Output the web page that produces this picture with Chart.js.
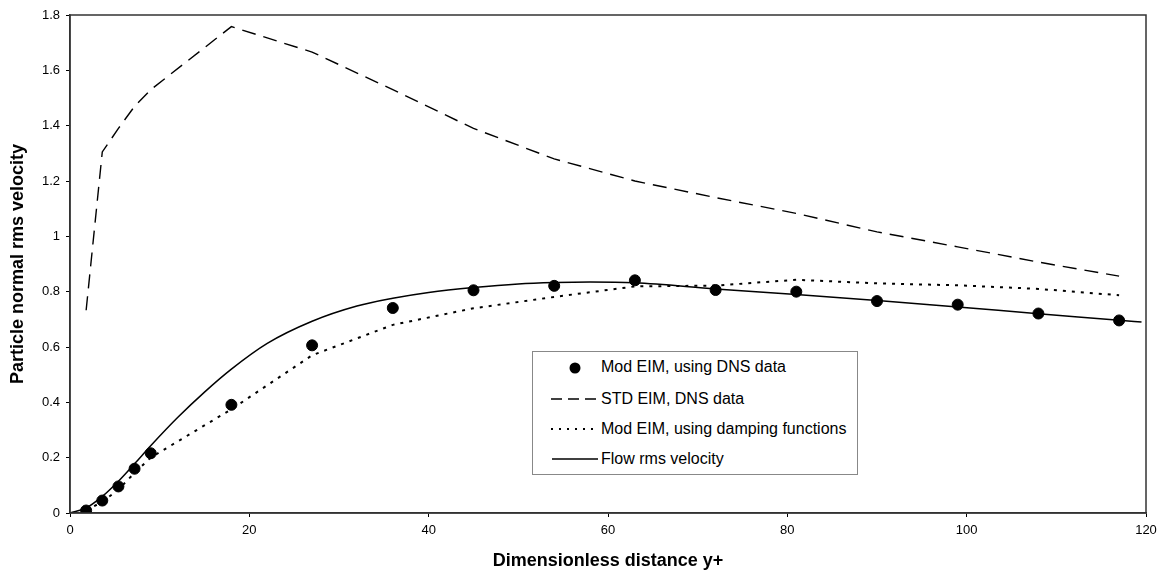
<!DOCTYPE html>
<html>
<head>
<meta charset="utf-8">
<script src="https://cdn.jsdelivr.net/npm/chart.js@4/dist/chart.umd.min.js"></script>
<style>
  html, body { margin: 0; padding: 0; background: #fff; }
  #wrap { position: relative; width: 1166px; height: 575px; }
  #legend {
    position: absolute; left: 532px; top: 351px; width: 326px; height: 124px;
    border: 1px solid #888; background: #fff; box-sizing: border-box;
    font-family: "Liberation Sans", Arial, sans-serif; font-size: 16px; color: #000;
  }
  .row { position: absolute; left: 0; height: 20px; line-height: 20px; white-space: nowrap; }
  .row svg { position: absolute; left: 16px; top: 0; }
  .row span { position: absolute; left: 68px; top: 0; }
</style>
</head>
<body>
<div id="wrap">
  <canvas id="chart" width="1166" height="575"></canvas>
  <div id="legend"></div>
</div>
<script>
// x positions (y+) shared by the model curves
const yPlus = [1.8, 3.6, 5.4, 7.2, 9, 18, 27, 36, 45, 54, 63, 72, 81, 90, 99, 108, 117];

// Mod EIM, using DNS data (dots)
const modDns = [0.009, 0.045, 0.096, 0.16, 0.216, 0.391, 0.606, 0.741, 0.805, 0.821, 0.841, 0.806, 0.80, 0.766, 0.753, 0.721, 0.696];

// STD EIM, DNS data (dashed)
const stdDns = [0.733, 1.305, 1.39, 1.47, 1.53, 1.758, 1.666, 1.53, 1.39, 1.28, 1.20, 1.14, 1.083, 1.016, 0.962, 0.907, 0.856];

// Mod EIM, using damping functions (dotted)
const modDamp = [0.01, 0.04, 0.085, 0.145, 0.2, 0.375, 0.57, 0.68, 0.74, 0.781, 0.819, 0.822, 0.843, 0.83, 0.823, 0.81, 0.787];

// Flow rms velocity (solid)
const flowX = [0, 1.8, 3.6, 5.4, 7.2, 9, 12, 15, 18, 22, 27, 32, 36, 40, 45, 50, 54, 58, 63, 72, 81, 90, 99, 108, 117, 119.5];
const flowY = [0, 0.018, 0.06, 0.115, 0.178, 0.243, 0.345, 0.437, 0.52, 0.613, 0.693, 0.748, 0.776, 0.797, 0.815, 0.828, 0.833, 0.835, 0.832, 0.81, 0.79, 0.768, 0.745, 0.72, 0.697, 0.69];

const xTicks = [0, 20, 40, 60, 80, 100, 120];
const yTicks = [0, 0.2, 0.4, 0.6, 0.8, 1, 1.2, 1.4, 1.6, 1.8];
const yTickLabels = ["0", "0.2", "0.4", "0.6", "0.8", "1", "1.2", "1.4", "1.6", "1.8"];

const legendLabels = [
  "Mod EIM, using DNS data",
  "STD EIM, DNS data",
  "Mod EIM, using damping functions",
  "Flow rms velocity"
];

function pairs(xs, ys) {
  return xs.map((x, i) => ({ x: x, y: ys[i] }));
}

const tickFont = { family: "'Liberation Sans', Arial, sans-serif", size: 13 };
const titleFont = { family: "'Liberation Sans', Arial, sans-serif", size: 18, weight: "bold" };

// box around the plot area
const frame = {
  id: "frame",
  afterDraw(chart) {
    const a = chart.chartArea;
    const ctx = chart.ctx;
    ctx.save();
    ctx.strokeStyle = "#333";
    ctx.lineWidth = 1.5;
    ctx.strokeRect(a.left, a.top, a.right - a.left, a.bottom - a.top);
    ctx.restore();
  }
};

new Chart(document.getElementById("chart"), {
  type: "scatter",
  data: {
    datasets: [
      {
        label: legendLabels[0],
        data: pairs(yPlus, modDns),
        pointRadius: 5.5,
        pointBackgroundColor: "#000",
        pointBorderColor: "#000",
        showLine: false
      },
      {
        label: legendLabels[1],
        data: pairs(yPlus, stdDns),
        showLine: true,
        pointRadius: 0,
        borderColor: "#000",
        borderWidth: 1.4,
        borderDash: [14, 8]
      },
      {
        label: legendLabels[2],
        data: pairs(yPlus, modDamp),
        showLine: true,
        pointRadius: 0,
        borderColor: "#000",
        borderWidth: 2,
        borderDash: [3, 6]
      },
      {
        label: legendLabels[3],
        data: pairs(flowX, flowY),
        showLine: true,
        pointRadius: 0,
        borderColor: "#000",
        borderWidth: 1.5,
        cubicInterpolationMode: "monotone"
      }
    ]
  },
  options: {
    responsive: false,
    animation: false,
    devicePixelRatio: 1,
    layout: { padding: { top: 15, right: 20, left: 0, bottom: 0 } },
    plugins: { legend: { display: false }, tooltip: { enabled: false } },
    scales: {
      x: {
        type: "linear",
        min: 0,
        max: 120,
        afterBuildTicks: (s) => { s.ticks = xTicks.map(v => ({ value: v })); },
        afterFit: (s) => { s.height = 62; },
        grid: { drawOnChartArea: false, color: "#000", tickColor: "#000", tickLength: 4 },
        border: { color: "#333", width: 1.5 },
        ticks: { color: "#000", font: tickFont, padding: 6, maxRotation: 0 },
        title: { display: true, text: "Dimensionless distance y+", color: "#000", font: titleFont, padding: { top: 0, bottom: 3 } }
      },
      y: {
        min: 0,
        max: 1.8,
        afterBuildTicks: (s) => { s.ticks = yTicks.map(v => ({ value: v })); },
        afterFit: (s) => { s.width = 70; },
        grid: { drawOnChartArea: false, color: "#000", tickColor: "#000", tickLength: 4 },
        border: { color: "#333", width: 1.5 },
        ticks: {
          color: "#000", font: tickFont, padding: 6,
          callback: (v, i) => yTickLabels[i]
        },
        title: { display: true, text: "Particle normal rms velocity", color: "#000", font: titleFont, padding: { top: 7, bottom: 0 } }
      }
    }
  },
  plugins: [frame]
});

// legend box inside the plot
const samples = [
  '<circle cx="26" cy="11" r="5.5" fill="#000"/>',
  '<line x1="2" y1="10" x2="47" y2="10" stroke="#000" stroke-width="1.5" stroke-dasharray="11,6"/>',
  '<line x1="2" y1="10" x2="49" y2="10" stroke="#000" stroke-width="2" stroke-dasharray="2,6"/>',
  '<line x1="3" y1="10" x2="49" y2="10" stroke="#000" stroke-width="1.5"/>'
];
const rowTops = [5, 37, 67, 97];
const legendEl = document.getElementById("legend");
legendLabels.forEach((txt, i) => {
  const row = document.createElement("div");
  row.className = "row";
  row.style.top = rowTops[i] + "px";
  row.innerHTML = '<svg width="52" height="20">' + samples[i] + '</svg><span>' + txt + '</span>';
  legendEl.appendChild(row);
});
</script>
</body>
</html>
